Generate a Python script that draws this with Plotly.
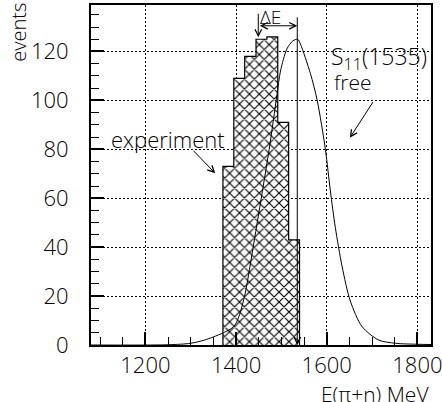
import plotly.graph_objects as go

# ---- data ----
bin_edges = [1371, 1395, 1419, 1444, 1468, 1492, 1516, 1540]
exp_counts = [73, 109, 118, 125, 126, 91, 43]

curve_E = [1080, 1250, 1300, 1330, 1350, 1372, 1395, 1406, 1420, 1435, 1452, 1473,
           1490, 1498, 1512, 1525, 1536, 1542, 1564, 1579, 1597, 1608, 1619, 1634,
           1652, 1678, 1715, 1752, 1800, 1830]
curve_N = [0, 0.1, 0.7, 2, 3.3, 5, 7.5, 11.5, 21, 37, 56, 80,
           102, 112, 121, 124.3, 125, 123, 111, 100, 80, 63, 48, 32,
           18, 7.5, 2, 0.7, 0.3, 0.2]

x_ticks = [1200, 1400, 1600, 1800]
y_ticks = [0, 20, 40, 60, 80, 100, 120]

FONT = "Open Sans"

centers = [(a + b) / 2 for a, b in zip(bin_edges[:-1], bin_edges[1:])]
widths = [b - a for a, b in zip(bin_edges[:-1], bin_edges[1:])]

fig = go.Figure()
fig.add_trace(go.Bar(
    x=centers, y=exp_counts, width=widths,
    marker=dict(color="white", line=dict(width=0),
                pattern=dict(shape="x", fgcolor="black", bgcolor="white",
                             size=7, solidity=0.3, fillmode="replace")),
    showlegend=False, hoverinfo="skip"))
fig.add_trace(go.Scatter(
    x=[bin_edges[0]] + bin_edges, y=[0] + exp_counts + [0],
    mode="lines", line=dict(color="black", width=1.2, shape="hv"),
    showlegend=False, hoverinfo="skip"))
fig.add_trace(go.Scatter(
    x=curve_E, y=curve_N, mode="lines",
    line=dict(color="black", width=1, shape="spline", smoothing=0.8),
    showlegend=False, hoverinfo="skip"))

tf = dict(family=FONT, size=22, color="black", weight=300)
txt = dict(family=FONT, size=21, color="black", weight=300)

ann = []
def arrow(x0, y0, x1, y1, head="end"):
    ann.append(dict(x=x1, y=y1, ax=x0, ay=y0, xref="x", yref="y", axref="x", ayref="y",
                    text="", showarrow=True, arrowhead=5, startarrowhead=5,
                    arrowside=head, arrowsize=1.3, startarrowsize=1.3,
                    arrowwidth=1, arrowcolor="black"))

def label(x, y, s, size=21):
    ann.append(dict(x=x, y=y, xref="x", yref="y", text=s, showarrow=False,
                    xanchor="center", yanchor="middle",
                    font=dict(family=FONT, size=size, color="black", weight=300)))

label(1476, 134.2, "ΔE", 19)
arrow(1449, 130.5, 1535, 130.5, head="end+start")
arrow(1449, 136, 1449, 125.8)
arrow(1535, 134.6, 1535, 0)
label(1250, 84.4, "experiment", 22)
arrow(1303, 80, 1354, 70.2)
label(1716, 117.6, "S<sub>11</sub>(1535)", 23)
label(1659, 107.4, "free", 21)
arrow(1704, 99.9, 1651, 84.7)

ann.append(dict(x=-0.212, y=0.921, xref="paper", yref="paper", text="events",
                textangle=-90, showarrow=False, xanchor="center", yanchor="middle",
                font=dict(family=FONT, size=20, color="black", weight=300)))
ann.append(dict(x=1.0, y=-0.145, xref="paper", yref="paper", text="E(π+n) MeV",
                showarrow=False, xanchor="right", yanchor="middle", font=txt))

axis_common = dict(showline=True, linewidth=2, linecolor="black", mirror=True,
                   ticks="inside", ticklen=13, tickwidth=2, tickcolor="black",
                   showgrid=True, gridcolor="black", gridwidth=1, griddash="2px,2px",
                   zeroline=False, tickfont=tf, automargin=False,
                   ticklabeloverflow="allow")

fig.update_layout(
    width=442, height=402,
    margin=dict(l=91, r=11, t=5, b=57, autoexpand=False),
    paper_bgcolor="white", plot_bgcolor="white",
    bargap=0, barmode="overlay",
    xaxis=dict(range=[1080, 1830], tickvals=x_ticks, ticklabelstandoff=0,
               minor=dict(dtick=50, tick0=1200, ticks="inside", ticklen=8,
                          tickwidth=1, tickcolor="black", showgrid=False),
               **axis_common),
    yaxis=dict(range=[0, 139], tickvals=y_ticks, ticklabelstandoff=16,
               minor=dict(dtick=5, tick0=0, ticks="inside", ticklen=8,
                          tickwidth=1, tickcolor="black", showgrid=False),
               **axis_common),
    annotations=ann,
)

fig.write_html("out.html", config={"displayModeBar": False},
               post_script="document.body.style.margin='0';")
